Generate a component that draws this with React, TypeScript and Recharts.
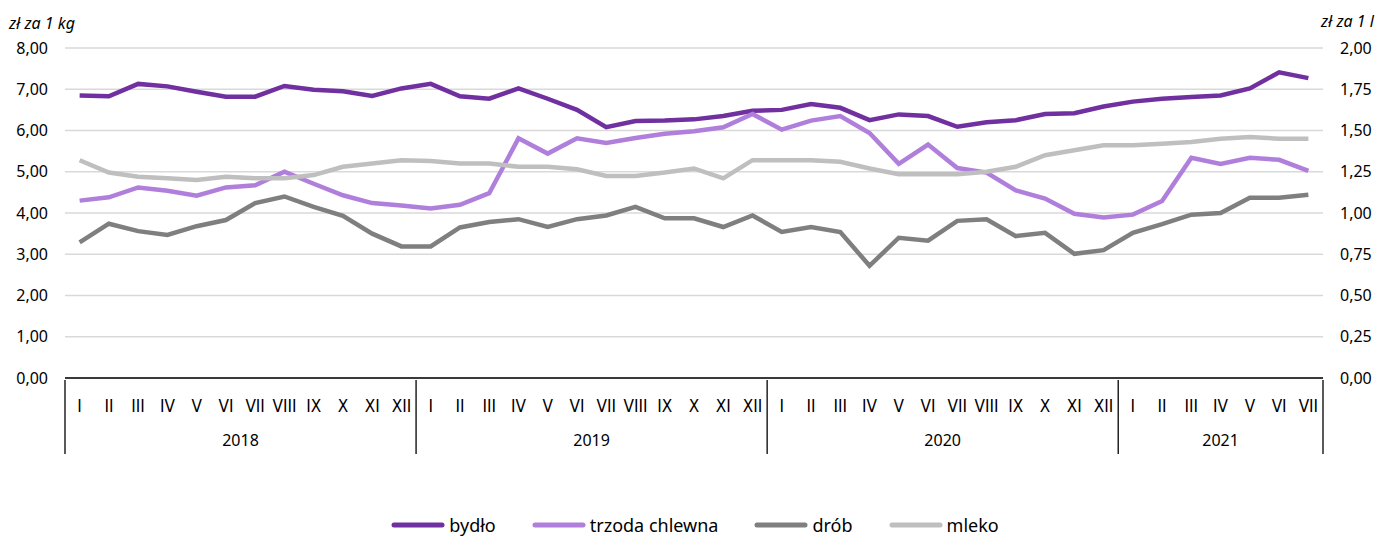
import { CartesianGrid, Legend, Line, LineChart, XAxis, YAxis } from "recharts";

const YEARS = ["2018", "2019", "2020", "2021"];
const MONTHS_PER_YEAR = [12, 12, 12, 7];
const MONTH_NAMES = ["I", "II", "III", "IV", "V", "VI", "VII", "VIII", "IX", "X", "XI", "XII"];

// zł za 1 kg (left axis)
const bydlo = [
  6.85, 6.83, 7.13, 7.07, 6.94, 6.82, 6.82, 7.08, 6.99, 6.95, 6.84, 7.02,
  7.13, 6.83, 6.77, 7.02, 6.77, 6.5, 6.08, 6.23, 6.24, 6.27, 6.35, 6.48,
  6.5, 6.64, 6.55, 6.25, 6.39, 6.35, 6.09, 6.2, 6.25, 6.4, 6.42, 6.58,
  6.7, 6.77, 6.81, 6.85, 7.02, 7.41, 7.27,
];
const trzoda = [
  4.3, 4.38, 4.62, 4.54, 4.42, 4.62, 4.67, 5.0, 4.71, 4.43, 4.24, 4.18,
  4.11, 4.2, 4.48, 5.81, 5.44, 5.81, 5.7, 5.82, 5.92, 5.98, 6.08, 6.4,
  6.02, 6.24, 6.35, 5.94, 5.19, 5.66, 5.09, 4.98, 4.55, 4.35, 3.98, 3.89,
  3.96, 4.29, 5.34, 5.19, 5.34, 5.29, 5.02,
];
const drob = [
  3.29, 3.74, 3.56, 3.47, 3.68, 3.83, 4.24, 4.4, 4.15, 3.93, 3.5, 3.19,
  3.19, 3.65, 3.78, 3.85, 3.66, 3.85, 3.94, 4.15, 3.87, 3.87, 3.66, 3.94,
  3.54, 3.66, 3.54, 2.72, 3.4, 3.33, 3.81, 3.85, 3.44, 3.52, 3.01, 3.1,
  3.52, 3.73, 3.96, 4.0, 4.37, 4.37, 4.44,
];
// zł za 1 l (right axis)
const mleko = [
  1.32, 1.245, 1.22, 1.21, 1.2, 1.22, 1.21, 1.21, 1.23, 1.28, 1.3, 1.32,
  1.315, 1.3, 1.3, 1.28, 1.28, 1.265, 1.225, 1.225, 1.245, 1.27, 1.21, 1.32,
  1.32, 1.32, 1.31, 1.27, 1.235, 1.235, 1.235, 1.25, 1.28, 1.35, 1.38, 1.41,
  1.41, 1.42, 1.43, 1.45, 1.46, 1.45, 1.45,
];

const leftTicks = [0, 1, 2, 3, 4, 5, 6, 7, 8];
const rightTicks = [0, 0.25, 0.5, 0.75, 1, 1.25, 1.5, 1.75, 2];

const SERIES = [
  { key: "bydlo", name: "bydło", color: "#7030a0", axis: "left" },
  { key: "trzoda", name: "trzoda chlewna", color: "#b07fdb", axis: "left" },
  { key: "drob", name: "drób", color: "#7f7f7f", axis: "left" },
  { key: "mleko", name: "mleko", color: "#bfbfbf", axis: "right" },
];

const data: any[] = [];
YEARS.forEach((year, y) => {
  for (let k = 0; k < MONTHS_PER_YEAR[y]; k++) {
    const i = data.length;
    data.push({
      month: MONTH_NAMES[k],
      year,
      k,
      n: MONTHS_PER_YEAR[y],
      bydlo: bydlo[i],
      trzoda: trzoda[i],
      drob: drob[i],
      mleko: mleko[i],
    });
  }
});

const W = 1390;
const H = 537;
const LEFT_W = 65;
const RIGHT_W = 67;
const BW = (W - LEFT_W - RIGHT_W) / data.length;
const PAD = { left: BW / 2, right: BW / 2 };
const FONT = "'Noto Sans', 'Open Sans', sans-serif";
const NARROW = "'Liberation Sans Narrow', 'DejaVu Sans Condensed', 'Noto Sans', sans-serif";

const fmt = (v: number) => v.toFixed(2).replace(".", ",");

const MonthTick = (props: any) => {
  const { x, y, payload } = props;
  return (
    <text x={x} y={y} dy={32} textAnchor="middle" fontFamily={NARROW} fontSize={17} fill="#000">
      {payload.value}
    </text>
  );
};

const YearTick = (props: any) => {
  const { x, y, index } = props;
  const d = data[index];
  if (!d) return null;
  const top = y - 30;
  const bottom = y + 44;
  const mid = Math.floor((d.n - 1) / 2);
  return (
    <g>
      {d.k === 0 && <line x1={x - BW / 2} x2={x - BW / 2} y1={top} y2={bottom} stroke="#000" strokeWidth={1.3} />}
      {index === data.length - 1 && (
        <line x1={x + BW / 2} x2={x + BW / 2} y1={top} y2={bottom} stroke="#000" strokeWidth={1.3} />
      )}
      {d.k === mid && (
        <text x={x + ((d.n - 1) / 2 - d.k) * BW} y={y} dy={36} textAnchor="middle" fontFamily={FONT} fontSize={16} fill="#000">
          {d.year}
        </text>
      )}
    </g>
  );
};

const LegendContent = () => (
  <div style={{ display: "flex", justifyContent: "center", alignItems: "center", gap: 36, fontFamily: FONT, fontSize: 18, color: "#000" }}>
    {SERIES.map((s) => (
      <div key={s.key} style={{ display: "flex", alignItems: "center", gap: 4 }}>
        <svg width={54} height={8}>
          <line x1={3} x2={51} y1={4} y2={4} stroke={s.color} strokeWidth={5} strokeLinecap="round" />
        </svg>
        <span>{s.name}</span>
      </div>
    ))}
  </div>
);

export default function App() {
  return (
    <div style={{ position: "relative", width: W, height: H, background: "#fff" }}>
      <style>{`body{margin:0}`}</style>
      <div style={{ position: "absolute", left: 9, top: 12, fontFamily: FONT, fontStyle: "italic", fontSize: 16, color: "#000" }}>
        zł za 1 kg
      </div>
      <div style={{ position: "absolute", left: 1321, top: 10, fontFamily: FONT, fontStyle: "italic", fontSize: 16, color: "#000", whiteSpace: "nowrap" }}>
        zł za 1 l
      </div>
      <LineChart width={W} height={H} data={data} margin={{ top: 48, right: 0, left: 0, bottom: 55 }}>
        <CartesianGrid yAxisId="left" xAxisId="m" vertical={false} stroke="#d9d9d9" strokeWidth={1.5} />
        <XAxis
          xAxisId="m"
          dataKey="month"
          interval={0}
          height={30}
          padding={PAD}
          tickLine={false}
          tickSize={0}
          axisLine={{ stroke: "#000", strokeWidth: 1.5 }}
          tick={<MonthTick />}
        />
        <XAxis
          xAxisId="y"
          dataKey="year"
          interval={0}
          height={44}
          padding={PAD}
          tickLine={false}
          tickSize={0}
          axisLine={false}
          tick={<YearTick />}
        />
        <YAxis
          yAxisId="left"
          width={LEFT_W}
          domain={[0, 8]}
          ticks={leftTicks}
          tickFormatter={fmt}
          tickLine={false}
          tickSize={0}
          tickMargin={17}
          axisLine={false}
          tick={{ fill: "#000", fontSize: 16, fontFamily: FONT }}
        />
        <YAxis
          yAxisId="right"
          orientation="right"
          width={RIGHT_W}
          domain={[0, 2]}
          ticks={rightTicks}
          tickFormatter={fmt}
          tickLine={false}
          tickSize={0}
          tickMargin={17}
          axisLine={false}
          tick={{ fill: "#000", fontSize: 16, fontFamily: FONT, textAnchor: "start" }}
        />
        {SERIES.map((s) => (
          <Line
            key={s.key}
            xAxisId="m"
            yAxisId={s.axis}
            dataKey={s.key}
            name={s.name}
            type="linear"
            stroke={s.color}
            strokeWidth={4.5}
            dot={false}
            activeDot={false}
            isAnimationActive={false}
          />
        ))}
        <Legend verticalAlign="bottom" content={<LegendContent />} wrapperStyle={{ bottom: -3, height: 30, lineHeight: "30px" }} />
      </LineChart>
    </div>
  );
}
